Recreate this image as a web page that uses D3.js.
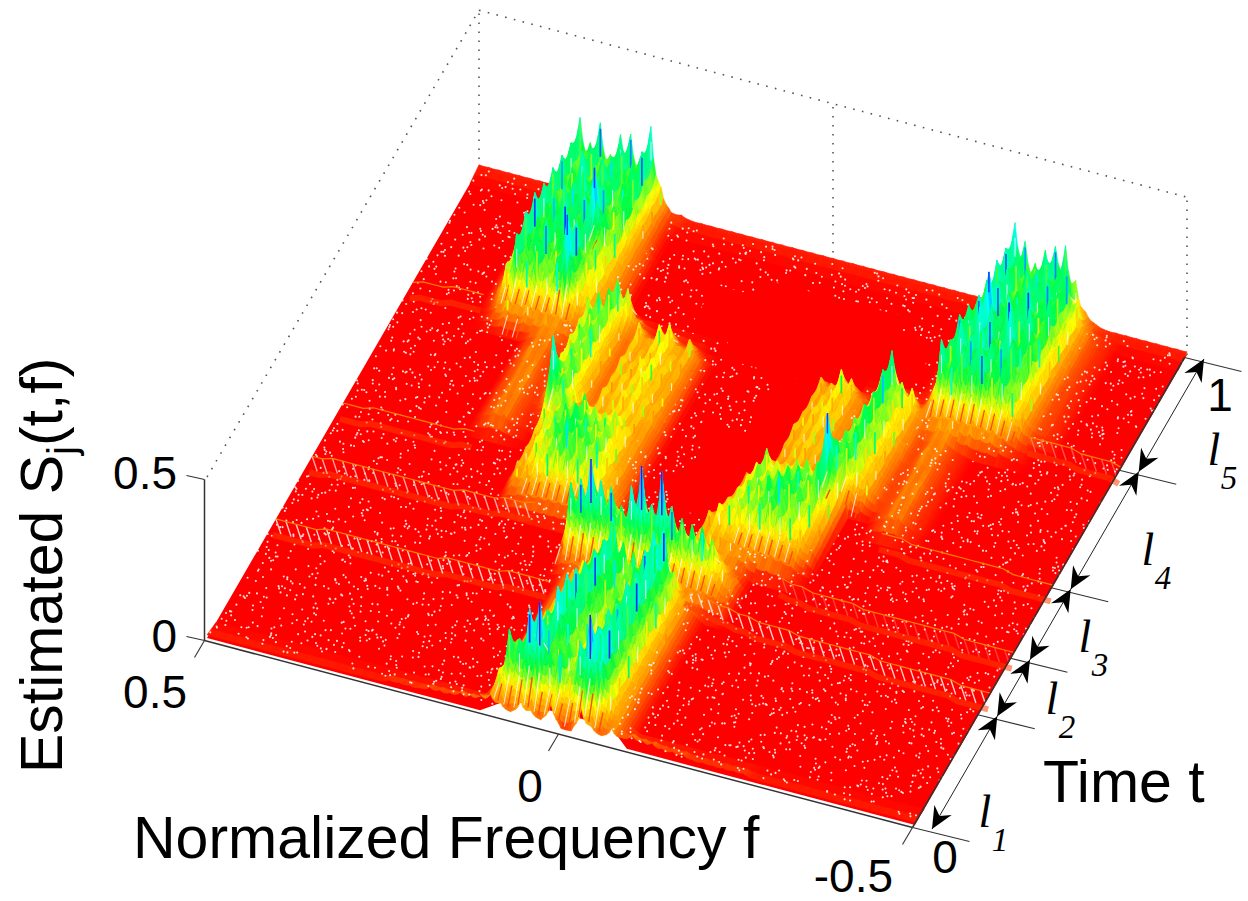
<!DOCTYPE html>
<html>
<head>
<meta charset="utf-8">
<script src="https://cdn.jsdelivr.net/npm/d3@7"></script>
<style>
  html, body { margin: 0; background: #fff; }
  text { font-family: "Liberation Sans", Arial, sans-serif; fill: #000; }
  .serif { font-family: "Liberation Serif", "Times New Roman", serif; font-style: italic; }
</style>
</head>
<body>
<div id="chart"></div>
<script>
// grid of the surface: 71 frequency columns, 31 time rows
const colCount = 70
const rowCount = 30

// segment borders on the time axis and the lengths l1..l5
const segmentEdges = [0, 0.24, 0.36, 0.51, 0.76, 1]
const segmentNames = ["1", "2", "3", "4", "5"]

// estimated S x 100, each entry: [time row, first column, heights]
const bandL1 = [
  [0, 28, [6, 4, 2, 6, 4, 2, 8, 1, 1, 9, 4, 2, 5, 3]],
  [1, 28, [9, 22, 20, 30, 33, 18, 20, 14, 24, 33, 30, 13, 6, 2]],
  [2, 28, [8, 14, 18, 24, 21, 16, 17, 15, 20, 24, 26, 12, 6, 2]],
  [3, 28, [6, 10, 16, 20, 28, 19, 15, 13, 19, 25, 24, 14, 6, 2]],
  [4, 28, [5, 9, 13, 18, 27, 22, 15, 12, 17, 22, 24, 14, 6, 2]],
  [5, 28, [4, 8, 12, 17, 24, 25, 16, 14, 18, 24, 26, 15, 6, 2]],
  [6, 28, [3, 7, 11, 16, 21, 25, 19, 16, 16, 22, 25, 16, 7, 2]],
  [7, 28, [3, 6, 10, 15, 20, 24, 20, 15, 18, 24, 28, 15, 6, 2]],
  [8, 28, [3, 6, 10, 14, 18, 26, 19, 17, 17, 25, 27, 14, 6, 2]]
]
const rimFront = [
  [0, 0, [1, 1, 1, 1, 1, 1, 1, 1, 1, 1, 1, 1, 1, 1, 1, 1, 1, 1, 2, 2, 2, 2, 3, 3, 3, 4, 4, 5]],
  [0, 42, [5, 4, 4, 3, 3, 3, 2, 2, 2, 2, 2, 2, 1, 1, 1, 1, 1, 1, 1, 1, 1, 1, 1, 1, 1, 1, 1, 1, 1]]
]
const rimBack = [
  [30, 0, [1, 1, 1, 1, 1, 1, 1, 1]],
  [30, 19, [2, 2, 1, 1, 1, 1, 1, 1, 1, 1, 1, 1, 1, 1, 1, 1, 1, 1, 1, 1, 1, 1, 1, 1, 1, 1, 1, 1, 1, 1, 1]],
  [30, 62, [1, 1, 1, 1, 1, 1, 1, 1, 1]]
]
const bandL2 = [
  [9, 27, [2, 3, 3, 4, 4, 5, 5, 5, 5, 5, 5, 5, 5, 5, 5, 4, 3]],
  [10, 27, [22, 24, 31, 25, 24, 19, 26, 33, 22, 33, 23, 20, 19, 19, 16, 10, 5]],
  [11, 27, [12, 13, 14, 13, 12, 11, 10, 10, 9, 9, 9, 9, 8, 7, 6, 4, 2]],
  [12, 27, [6, 6, 5, 4, 3, 2, 2, 2, 2, 2, 2]]
]
const bandL3Left = [
  [12, 19, [2, 3, 4, 4, 4, 4, 4, 4]],
  [13, 19, [7, 9, 12, 14, 16, 16, 15, 14, 12, 8, 4]],
  [14, 19, [7, 11, 14, 17, 20, 19, 17, 16, 12, 7, 3]],
  [15, 19, [8, 12, 15, 18, 19, 17, 16, 15, 10, 6, 3]],
  [16, 19, [11, 13, 16, 14, 17, 14, 13, 14, 10, 6, 3]]
]
const bandL3Right = [
  [12, 38, [7, 8, 8, 7, 6, 6, 5, 5, 4, 3, 1]],
  [13, 38, [8, 11, 13, 14, 14, 16, 17, 16, 14, 11, 5]],
  [14, 38, [3, 8, 12, 15, 16, 18, 20, 19, 17, 14, 7]],
  [15, 38, [2, 6, 11, 15, 14, 15, 17, 18, 16, 20, 10]],
  [16, 38, [3, 6, 10, 15, 12, 12, 14, 15, 15, 31, 14]]
]
const bandL4Left = [
  [16, 13, [2, 4, 4, 2, 1]],
  [17, 13, [2, 4, 4, 2, 1, 2, 27, 16, 12, 5, 8, 7, 9, 9, 8, 6, 3]],
  [18, 13, [2, 4, 5, 2, 2, 10, 14, 17, 8, 3, 9, 8, 10, 10, 9, 8, 3]],
  [19, 13, [2, 4, 5, 2, 3, 11, 15, 16, 7, 3, 8, 9, 9, 12, 8, 7, 3]],
  [20, 13, [2, 5, 4, 2, 2, 12, 15, 17, 8, 3, 9, 8, 10, 11, 9, 7, 3]],
  [21, 13, [2, 4, 5, 2, 3, 12, 16, 16, 7, 3, 8, 7, 9, 11, 8, 8, 3]],
  [22, 13, [2, 4, 4, 2, 3, 13, 16, 18, 7, 3, 10, 6, 11, 12, 6, 9, 3]],
  [23, 20, [16, 14, 5, 2, 1, 2, 2, 1, 1]]
]
const bandL4Right = [
  [16, 52, [2, 4, 4, 2, 1]],
  [17, 41, [6, 7, 8, 7, 6, 4, 18, 18, 13, 8, 3, 2, 4, 4, 2, 1]],
  [18, 41, [7, 8, 9, 8, 6, 4, 16, 18, 14, 8, 3, 2, 4, 5, 2, 1]],
  [19, 41, [8, 8, 9, 8, 5, 4, 15, 20, 14, 9, 3, 2, 4, 4, 2, 1]],
  [20, 41, [7, 9, 10, 9, 5, 3, 14, 19, 15, 10, 4, 2, 5, 4, 2, 1]],
  [21, 41, [7, 8, 10, 9, 5, 3, 13, 21, 14, 10, 4, 2, 4, 5, 2, 1]],
  [22, 41, [8, 7, 12, 10, 4, 3, 14, 22, 13, 12, 4]],
  [23, 41, [1, 1, 2, 1, 1, 0, 3, 5, 3]]
]
const bandL5Left = [
  [22, 8, [1, 4, 8, 6, 8, 6, 7, 6, 5, 4, 3, 1]],
  [23, 8, [2, 12, 22, 16, 20, 15, 18, 32, 12, 10, 5, 2]],
  [24, 8, [3, 13, 24, 19, 23, 16, 22, 25, 15, 12, 6, 3]],
  [25, 8, [2, 15, 25, 17, 19, 25, 16, 21, 14, 13, 6, 3]],
  [26, 8, [3, 14, 23, 21, 24, 19, 23, 32, 19, 15, 6, 3]],
  [27, 8, [3, 12, 23, 15, 20, 26, 18, 22, 16, 20, 6, 3]],
  [28, 8, [3, 15, 22, 19, 25, 17, 24, 20, 18, 22, 7, 2]],
  [29, 8, [4, 13, 21, 16, 21, 18, 20, 23, 19, 24, 8, 2]],
  [30, 8, [5, 14, 24, 17, 24, 15, 22, 23, 17, 27, 9, 2]]
]
const bandL5Right = [
  [22, 50, [1, 2, 5, 7, 7, 6, 7, 6, 6, 4, 2, 1]],
  [23, 50, [1, 6, 24, 18, 23, 20, 24, 18, 20, 15, 8, 3, 2, 1]],
  [24, 50, [1, 5, 19, 25, 22, 26, 21, 22, 23, 16, 9, 3, 2, 1]],
  [25, 50, [1, 4, 22, 21, 26, 24, 19, 27, 18, 20, 10, 3, 2, 1]],
  [26, 50, [1, 3, 20, 24, 32, 19, 26, 21, 24, 17, 11, 3, 2, 1]],
  [27, 50, [1, 3, 17, 23, 24, 21, 19, 25, 18, 22, 11, 4, 2, 1]],
  [28, 50, [1, 3, 18, 25, 23, 17, 24, 20, 23, 20, 12, 4, 2, 1]],
  [29, 50, [1, 3, 15, 24, 21, 19, 20, 24, 19, 22, 13, 4, 2, 1]],
  [30, 50, [1, 4, 17, 27, 22, 16, 21, 23, 24, 14, 5, 2, 1]]
]
const allBands = [bandL1, rimFront, rimBack, bandL2, bandL3Left, bandL3Right, bandL4Left, bandL4Right, bandL5Left, bandL5Right]

// ridge lines at the segment borders: [time row, first column, heights, sticks shown]
const ridgeLines = [
  [7.6, 0, [0, 0, 0, 0, 0, 1, 1, 1, 1, 1, 1, 1, 1, 1, 1, 1, 1, 2, 2, 2, 2, 2, 2, 3, 3, 3, 3, 3], 1],
  [8.4, 40, [8, 7, 6, 5, 5, 4, 4, 3, 3, 3, 3, 2, 2, 2, 2, 2, 2, 2, 2, 1, 1, 1, 1, 1, 1, 1, 1, 0, 0, 0, 0], 1],
  [11.6, 0, [0, 0, 1, 1, 1, 1, 1, 1, 1, 1, 1, 1, 1, 1, 1, 2, 2, 2, 2, 3, 3, 3, 4], 0.8],
  [11, 47, [4, 3, 3, 2, 2, 2, 2, 2, 1, 1, 1, 1, 1, 1, 1, 1, 1, 1, 0, 0, 0, 0, 0, 0], 0.3],
  [15, 0, [0, 0, 0, 1, 1, 1, 1, 1, 1, 1, 1, 1, 2, 2], 0],
  [15.3, 53, [2, 2, 2, 1, 1, 1, 1, 1, 1, 1, 1, 1, 1, 0, 0, 0, 0, 0], 0],
  [22.7, 0, [0, 1, 1, 1, 2, 2, 2, 2], 0],
  [22.8, 61, [2, 2, 2, 2, 2, 1, 1, 1, 1, 0], 0.4]
]

// solid stretch of the floor behind the middle of the chart: [first col, last col, first row, last row]
const solidFloor = [
  [30, 44, 23, 28], [26, 48, 24, 27], [36, 44, 19, 23], [33, 40, 14, 19]
]
// the first row lifts off the floor under the middle band: outline of the floor as [col, row]
const floorOutline = [
  [0, 0], [27, 0], [29, 1], [39, 1], [41.5, 0], [70, 0], [70, 30], [0, 30]
]

const zTicks = [0, 0.5]
const fTicks = [0.5, 0, -0.5]
const colorStops = [0, 3.5, 9, 15, 24, 32]
const colorRange = ["#ff0000", "#ff8000", "#ffff00", "#00ff40", "#00ffff", "#0030ff"]

const width = 1248
const height = 901

const originX = 207
const originY = 638

const fToX = d3.scaleLinear().domain([0.5, -0.5]).range([0, 708])
const fToY = d3.scaleLinear().domain([0.5, -0.5]).range([0, 187])
const tToX = d3.scaleLinear().domain([0, 1]).range([0, 272])
const tToY = d3.scaleLinear().domain([0, 1]).range([0, -470])
const zToY = d3.scaleLinear().domain([0, 0.5]).range([0, -161])
const colorScale = d3.scaleLinear().domain(colorStops).range(colorRange).clamp(true)

const colToF = c => 0.5 - c / colCount
const rowToT = r => r / rowCount

function project(f, t, z) {
  return [
    originX + fToX(f) + tToX(t),
    originY + fToY(f) + tToY(t) + zToY(z)
  ]
}
const gridPoint = (c, r, h) => project(colToF(c), rowToT(r), h / 100)

const grid = d3.range(rowCount + 1).map(() => new Array(colCount + 1).fill(0))
allBands.forEach(band => band.forEach(([r, c0, hs]) => {
  hs.forEach((h, i) => { grid[r][c0 + i] = Math.max(grid[r][c0 + i], h) })
}))

const svg = d3.select("#chart").append("svg")
  .attr("width", width)
  .attr("height", height)
  .style("display", "block")

const line = d3.line()

// dotted back of the box
const boxTop = 0.49
const backLines = [
  [project(0.5, 0, 0.5), project(0.5, 1, boxTop)],
  [project(0.5, 1, 0), project(0.5, 1, boxTop)],
  [project(0.5, 1, boxTop), project(-0.5, 1, boxTop)],
  [project(-0.5, 1, 0), project(-0.5, 1, boxTop)],
  [project(0, 1, 0), project(0, 1, boxTop)]
]
svg.append("g")
  .selectAll("path")
  .data(backLines)
  .join("path")
  .attr("d", line)
  .attr("fill", "none")
  .attr("stroke", "#555")
  .attr("stroke-width", 1.6)
  .attr("stroke-dasharray", "1.6 7.4")

// raised part of the surface, back to front
// every node is a spike: the surface dips between neighbouring nodes
const colDip = 0.32
const rowDip = 0.14
const pxPerUnit = 3.22
const lowPolys = []
const polys = []
d3.range(rowCount - 1, -1, -1).forEach(r => {
  d3.range(0, colCount).forEach(c => {
    const hb0 = grid[r + 1][c], hb1 = grid[r + 1][c + 1]
    const hf0 = grid[r][c], hf1 = grid[r][c + 1]
    const top = Math.max(hb0, hb1, hf0, hf1)
    if (top === 0) return
    const target = top <= 6 ? lowPolys : polys
    const spread = top - Math.min(hb0, hb1, hf0, hf1)
    const na = 4
    const nb = Math.min(8, Math.max(2, Math.ceil(Math.max(spread, top * 0.5) / 2.5)))
    const at = (a, b) => {
      const flat = (hf0 * (1 - a) + hf1 * a) * (1 - b) + (hb0 * (1 - a) + hb1 * a) * b
      const keep = Math.min(1, 0.3 + flat / 10)
      const h = flat * (1 - keep * colDip * Math.sin(Math.PI * a)) * (1 - keep * rowDip * Math.sin(Math.PI * b))
      return { p: gridPoint(c + a, r + b, h), h }
    }
    d3.range(nb).forEach(j => d3.range(na).forEach(i => {
      const q = [at(i / na, j / nb), at((i + 1) / na, j / nb), at((i + 1) / na, (j + 1) / nb), at(i / na, (j + 1) / nb)]
      target.push({ pts: q.map(d => d.p), color: colorScale(d3.mean(q, d => d.h)) })
    }))
    // steep faces show the gaps between mesh lines
    if (Math.abs((hb0 + hb1) - (hf0 + hf1)) / 2 >= 7) {
      polys.push({ pts: [at(0.3, 0.05).p, at(0.3, 0.65).p], stick: "#fff", w: 1.1 })
      polys.push({ pts: [at(0.7, 0.05).p, at(0.7, 0.5).p], stick: "#ff5000", w: 1.4 })
    }
    // streak hanging from the back node of this cell
    if (hb0 >= 7) {
      const tip = gridPoint(c, r + 1, hb0)
      const pick = (c * 2 + r) % 3
      const drop = Math.min(34, hb0 * pxPerUnit * 0.62)
      if (hb0 >= 31) {
        polys.push({ pts: [tip, [tip[0], tip[1] + (r < 12 ? drop + 10 : drop * 0.6)]], stick: r < 12 ? "#4010e0" : "#0040ff", w: 1.4 })
      } else if (pick === 0) {
        polys.push({ pts: [[tip[0], tip[1] + drop * 0.45], [tip[0], tip[1] + drop]], stick: "#fff", w: 1.1 })
      } else {
        polys.push({ pts: [[tip[0], tip[1] + 6], [tip[0], tip[1] + drop]], stick: colorScale(hb0 * (pick === 1 ? 0.55 : 1.25)), w: 1.7 })
      }
    }
  })
})

function drawPolys(parent, list) {
  parent.append("g")
    .selectAll("path")
    .data(list)
    .join("path")
    .attr("d", d => line(d.pts) + (d.stick ? "" : "Z"))
    .attr("fill", d => d.stick ? "none" : d.color)
    .attr("stroke", d => d.stick ? d.stick : d.color)
    .attr("stroke-width", d => d.stick ? d.w : 0.6)
    .attr("stroke-opacity", d => d.stick === "#fff" ? 0.75 : 1)
}

// surface goes in its own group so it can be softened a bit
const surface = svg.append("g").style("filter", "blur(0.45px)")

// floor and the low skirts, the specks lie over both
surface.append("path")
  .attr("d", line(floorOutline.map(([c, r]) => gridPoint(c, r, 0))) + "Z")
  .attr("fill", "#ff0000")
drawPolys(surface, lowPolys)

// white specks: gaps of the mesh, low discrepancy steps with a fast wobble
const speckCount = 5200
const frac = v => v - Math.floor(v)
const speckPath = d3.path()
d3.range(speckCount).forEach(i => {
  const u = frac(i * 0.7548777 + 0.05 * Math.sin(i * 2.399))
  const v = frac(i * 0.5698403 + 0.05 * Math.sin(i * 1.113))
  const p = project(0.5 - u, 0.012 + v * 0.988, 0)
  speckPath.moveTo(p[0] + 1.05, p[1])
  speckPath.arc(p[0], p[1], 1.05, 0, 2 * Math.PI)
})
surface.append("path")
  .attr("d", speckPath.toString())
  .attr("fill", "#fff")
  .attr("fill-opacity", 0.85)

surface.append("g")
  .selectAll("path")
  .data(solidFloor)
  .join("path")
  .attr("d", ([c0, c1, r0, r1]) => line([
    gridPoint(c0, r0, 0), gridPoint(c1, r0, 0), gridPoint(c1, r1, 0), gridPoint(c0, r1, 0)
  ]) + "Z")
  .attr("fill", "#ff0000")

// ridges at the segment borders with the short sticks hanging from them
ridgeLines.forEach(([r, c0, hs, stickOpacity]) => {
  const pts = hs.map((h, i) => gridPoint(c0 + i, r, h))
  surface.append("path")
    .attr("d", line(pts.map(p => [p[0] - 3, p[1] + 16])))
    .attr("fill", "none")
    .attr("stroke", "#ff3a00")
    .attr("stroke-width", 6)
    .attr("stroke-opacity", 0.55)
  if (stickOpacity > 0) {
    surface.append("g")
      .selectAll("path")
      .data(pts.slice(0, -1))
      .join("path")
      .attr("d", p => line([p, [p[0] + 5, p[1] + 15]]))
      .attr("stroke", "#ffd0c8")
      .attr("stroke-width", 1.4)
      .attr("stroke-opacity", stickOpacity)
  }
  surface.append("path")
    .attr("d", line(pts))
    .attr("fill", "none")
    .attr("stroke", "#ff8000")
    .attr("stroke-width", 1.2)
})

drawPolys(surface, polys)

// axis lines and ticks
const axisColor = "#333"
const axisLines = [
  [project(0.5, 0, 0), project(0.5, 0, 0.5)],
  [project(0.5, 0, 0), project(-0.5, 0, 0)],
  [project(-0.5, 0, 0), project(-0.5, 1, 0)]
]
const axisG = svg.append("g").attr("transform", "translate(-2.5,2.5)")
axisG.selectAll("path.axis")
  .data(axisLines)
  .join("path")
  .attr("class", "axis")
  .attr("d", line)
  .attr("stroke", axisColor)
  .attr("stroke-width", 1.5)

const zTickLines = zTicks.map(z => {
  const p = project(0.5, 0, z)
  return [p, [p[0] - 18, p[1] - 4]]
})
const fTickLines = fTicks.map(f => {
  const p = project(f, 0, 0)
  return [p, [p[0] - 10, p[1] + 17]]
})
const tTickLines = segmentEdges.map(t => {
  const p = project(-0.5, t, 0)
  return [p, [p[0] + 57, p[1] + 14]]
})
axisG.selectAll("path.tick")
  .data(zTickLines.concat(fTickLines, tTickLines))
  .join("path")
  .attr("class", "tick")
  .attr("d", line)
  .attr("stroke", axisColor)
  .attr("stroke-width", 1.1)

// double arrows for l1..l5, beside the time axis
const arrowOffset = [17, 4]
const arrowHead = "M0,0 L-22,-10 L-15,0 L-22,10 Z"
d3.pairs(segmentEdges).forEach(([t0, t1]) => {
  const a = project(-0.5, t0, 0)
  const b = project(-0.5, t1, 0)
  const p0 = [a[0] + arrowOffset[0], a[1] + arrowOffset[1]]
  const p1 = [b[0] + arrowOffset[0], b[1] + arrowOffset[1]]
  const angle = Math.atan2(p1[1] - p0[1], p1[0] - p0[0]) * 180 / Math.PI
  svg.append("path")
    .attr("d", line([p0, p1]))
    .attr("stroke", "#222")
    .attr("stroke-width", 1)
  svg.append("path")
    .attr("d", arrowHead)
    .attr("transform", `translate(${p1[0]},${p1[1]}) rotate(${angle})`)
  svg.append("path")
    .attr("d", arrowHead)
    .attr("transform", `translate(${p0[0]},${p0[1]}) rotate(${angle + 180})`)
})

// l labels beside the arrows
const lSpots = [[985, 811], [1052, 698], [1085, 636], [1148, 549], [1214, 449]]
lSpots.forEach(([lx, ly], i) => {
  svg.append("text").attr("class", "serif")
    .attr("x", lx).attr("y", ly + 16)
    .attr("text-anchor", "middle")
    .attr("font-size", 46)
    .text("l")
  svg.append("text").attr("class", "serif")
    .attr("x", lx + 15).attr("y", ly + 40)
    .attr("text-anchor", "middle")
    .attr("font-size", 33)
    .text(segmentNames[i])
})

// tick labels and axis titles
const labelSize = 46
const titleSize = 59
const tickLabels = [
  { text: "0.5", x: 177, y: 489, anchor: "end" },
  { text: "0", x: 177, y: 652, anchor: "end" },
  { text: "0.5", x: 187, y: 708, anchor: "end" },
  { text: "0", x: 530, y: 802, anchor: "middle" },
  { text: "-0.5", x: 893, y: 892, anchor: "end" },
  { text: "0", x: 945, y: 873, anchor: "middle" },
  { text: "1", x: 1220, y: 411, anchor: "middle" }
]
svg.append("g")
  .selectAll("text")
  .data(tickLabels)
  .join("text")
  .attr("x", d => d.x)
  .attr("y", d => d.y)
  .attr("text-anchor", d => d.anchor)
  .attr("font-size", labelSize)
  .text(d => d.text)

svg.append("text")
  .attr("x", 133).attr("y", 858)
  .attr("font-size", titleSize)
  .text("Normalized Frequency f")
svg.append("text")
  .attr("x", 1043).attr("y", 802)
  .attr("font-size", titleSize)
  .text("Time t")

const zTitle = svg.append("text")
  .attr("transform", "translate(62,773) rotate(-90)")
  .attr("font-size", titleSize)
zTitle.append("tspan").text("Estimated S")
zTitle.append("tspan").attr("font-size", 40).attr("dy", 14).text("j")
zTitle.append("tspan").attr("dy", -14).text("(t,f)")
</script>
</body>
</html>
